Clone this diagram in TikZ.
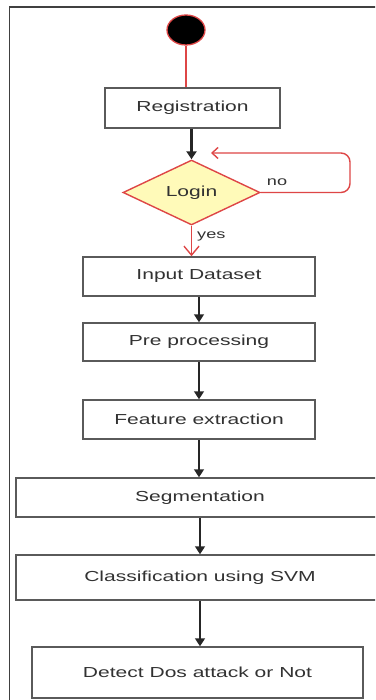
\documentclass[tikz,border=0pt]{standalone}
\usepackage{fontspec}
\setmainfont[FakeStretch=1.45]{Liberation Sans}
\usetikzlibrary{shapes.geometric,arrows.meta}

\definecolor{linered}{RGB}{222,70,70}
\definecolor{boxgray}{RGB}{90,90,90}
\definecolor{textgray}{RGB}{50,50,50}
\definecolor{loginfill}{RGB}{255,250,185}

\tikzset{
    stepbox/.style={draw=boxgray, line width=1.5pt, fill=white, inner sep=0pt,
        text=textgray, font=\fontsize{14.5}{16}\selectfont},
    flow/.style={line width=1.6pt, draw=black!85, -{Triangle[length=8pt,width=10pt]}},
    redflow/.style={line width=1.4pt, draw=linered}
}

\begin{document}
\begin{tikzpicture}[x=1pt, y=-1pt]
    % 画布大小与外框
    \useasboundingbox (0,0) rectangle (375,700);
    \clip (0,0) rectangle (375,700);
    \fill[white] (0,0) rectangle (375,700);
    \draw[line width=1.8pt, draw=black!75] (9.5,7) rectangle (420,730);

    % 起点
    \node[ellipse, fill=black, draw=linered, line width=1.3pt,
          minimum width=38pt, minimum height=30pt, inner sep=0pt] (start) at (186,30) {};

    % 各个步骤
    \node[stepbox, minimum width=175pt, minimum height=40pt] (reg) at (192.5,108) {Registration};
    \node[diamond, draw=linered, fill=loginfill, line width=1.4pt, inner sep=0pt,
          minimum width=137pt, minimum height=51pt, text=textgray,
          font=\fontsize{14.5}{16}\selectfont] (login) at (191.5,192.5) {Login};
    \node[stepbox, minimum width=232pt, minimum height=39pt] (input) at (199,276.5) {Input Dataset};
    \node[stepbox, minimum width=232pt, minimum height=38pt] (pre) at (199,342) {Pre processing};
    \node[stepbox, minimum width=232pt, minimum height=39pt] (feat) at (199,419.5) {Feature extraction};
    \node[stepbox, minimum width=368pt, minimum height=39pt] (seg) at (200,497.5) {Segmentation};
    \node[stepbox, minimum width=368pt, minimum height=45pt] (cls) at (200,577.5) {Classification using SVM};
    \node[stepbox, minimum width=331pt, minimum height=51pt] (detect) at (197.5,672.5) {Detect Dos attack or Not};

    % 登录失败时返回
    \coordinate (noturn) at (350,192.5);
    \coordinate (loopback) at (211,153);

    % 连线
    \draw[redflow] (start) -- (start |- reg.north);
    \draw[flow, line width=2.2pt] (reg.south -| login.north) -- (login.north);
    \draw[redflow, rounded corners=9pt, -{Straight Barb[length=6pt,width=11pt]}]
        (login.east) -- (noturn) |- (loopback);
    \draw[redflow, -{Straight Barb[length=9pt,width=15pt]}]
        (login.south) -- (login.south |- input.north);
    \draw[flow] (input) -- (pre);
    \draw[flow] (pre) -- (feat);
    \draw[flow] (feat.south) -- (seg.north -| feat.south);
    \draw[flow] (seg) -- (cls);
    \draw[flow] (cls.south) -- (detect.north -| cls.south);

    % 分支标注
    \node[text=textgray, font=\fontsize{12.5}{14}\selectfont] (nolabel) at (277,182) {no};
    \node[anchor=west, inner sep=1pt, text=textgray, font=\fontsize{12.5}{14}\selectfont]
        (yeslabel) at (196,236) {yes};
\end{tikzpicture}
\end{document}
